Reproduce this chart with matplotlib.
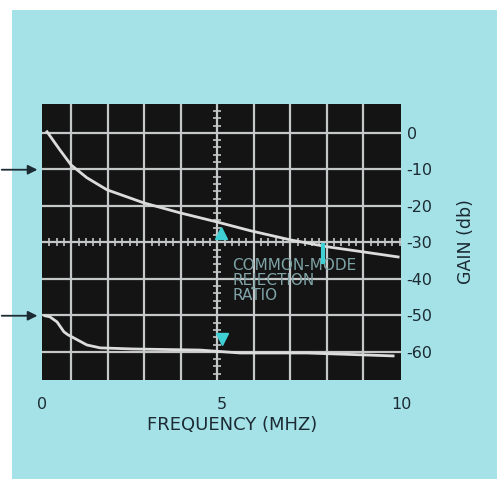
import numpy as np
import matplotlib
matplotlib.use('Agg')
import matplotlib.pyplot as plt
from matplotlib.patches import Rectangle

# Scope trace: frequency in MHz, gain in dB
diff_freq = [0.14, 0.5, 0.81, 1.25, 1.81, 2.84, 3.84, 4.87, 5.8, 6.91, 7.94, 8.94, 9.92]
diff_gain = [0.3, -4.7, -8.8, -12.3, -15.6, -19.2, -21.9, -24.4, -26.8, -29.3, -31.2, -32.6, -34.0]

cmrr_freq = [0.08, 0.22, 0.42, 0.61, 0.72, 1.25, 1.62, 2.53, 4.4, 5.52, 7.38, 9.78]
cmrr_gain = [-50.1, -50.4, -51.8, -54.5, -55.3, -58.1, -58.9, -59.2, -59.5, -60.3, -60.3, -61.1]

freq_ticks = [0, 5, 10]
freq_labels = ['0', '5', '10']
gain_ticks = [0, -10, -20, -30, -40, -50, -60]
gain_labels = ['0', '-10', '-20', '-30', '-40', '-50', '-60']

bg = '#a5e2e8'
ink = '#1c2b33'
grid_col = '#c4c8c8'
trace_col = '#dcdcdc'
marker_col = '#3fd0d4'

fig = plt.figure(figsize=(5.02, 4.79), dpi=100)
fig.patch.set_facecolor('white')
fig.patches.append(Rectangle((12 / 502, 0), 485 / 502, 1 - 10 / 479,
                             transform=fig.transFigure, facecolor=bg,
                             edgecolor='none', zorder=-1))

ax = fig.add_axes([42 / 502, 1 - 380 / 479, 359 / 502, 276 / 479])
ax.set_facecolor('#141414')
ax.set_xlim(0, 10)
ax.set_ylim(-67.7, 7.9)
for s in ax.spines.values():
    s.set_visible(False)

# scope graticule: the screen divisions don't sit exactly on whole MHz
div = 0.1017
gx = 0.0808 + div * np.arange(9)
yf = ax.get_yaxis_transform()   # x in axes fraction, y in dB
for x in gx:
    ax.plot([x, x], [0, 1], transform=ax.transAxes, color=grid_col, lw=1.6, zorder=1)
for y in gain_ticks:
    ax.axhline(y, color=grid_col, lw=1.6, zorder=1)
# small divisions on the centre lines
sub = np.arange(1, 50) * div / 5
ax.plot(sub, np.full(sub.size, -30), transform=yf, ls='none', marker='|',
        ms=6, mew=1.2, color=grid_col, zorder=1)
ax.plot(np.full(37, gx[4]), np.arange(-66, 8, 2), transform=yf, ls='none',
        marker='_', ms=6, mew=1.2, color=grid_col, zorder=1)

# traces
ax.plot(diff_freq, diff_gain, color=trace_col, lw=2.0, zorder=3)
ax.plot(cmrr_freq, cmrr_gain, color=trace_col, lw=2.0, zorder=3)

# cyan overlay annotation
ax.text(5.3, -40.5, 'COMMON-MODE\nREJECTION\nRATIO', color='#7fa3a6',
        fontsize=11, ha='left', va='center', linespacing=1.0, zorder=4)
ax.plot([4.98], [-27.5], marker='^', ms=8, color=marker_col, ls='none', zorder=4)
ax.plot([5.0], [-56.5], marker='v', ms=8, color=marker_col, ls='none', zorder=4)
ax.plot([7.83, 7.83], [-30.7, -35.3], color=marker_col, lw=3, zorder=4)

# arrows pointing at the trace starts
for y in [diff_gain[2] - 1.3, cmrr_gain[0]]:
    ax.annotate('', xy=(-0.005, y), xytext=(-0.12, y),
                xycoords=('axes fraction', 'data'),
                textcoords=('axes fraction', 'data'),
                arrowprops=dict(arrowstyle='-|>', color=ink, lw=1.3,
                                mutation_scale=14),
                annotation_clip=False)

ax.set_xticks(freq_ticks)
ax.set_xticklabels(freq_labels)
ax.yaxis.tick_right()
ax.set_yticks(gain_ticks)
ax.set_yticklabels(gain_labels)
ax.tick_params(axis='x', length=0, pad=12, labelsize=11.5, labelcolor=ink)
ax.tick_params(axis='y', length=0, pad=4, labelsize=11.5, labelcolor=ink)

ax.set_xlabel('FREQUENCY (MHZ)', fontsize=13, color=ink)
ax.xaxis.set_label_coords(0.53, -0.13)
ax.yaxis.set_label_position('right')
ax.set_ylabel('GAIN (db)', fontsize=12.5, color=ink, rotation=90)
ax.yaxis.set_label_coords(1.155, 0.5)

fig.savefig('out.png', dpi=100, facecolor=fig.get_facecolor())
